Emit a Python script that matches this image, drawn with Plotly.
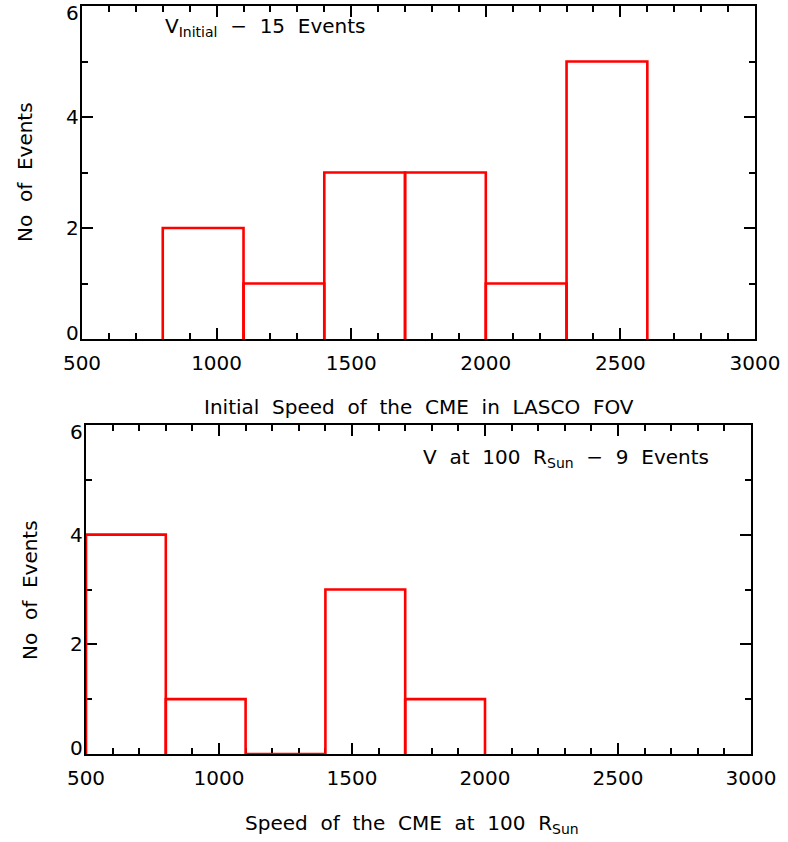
import plotly.graph_objects as go

# ---- data ----
edges_top = [800, 1100, 1400, 1700, 2000, 2300, 2600]
counts_top = [2, 1, 3, 3, 1, 5]
edges_bot = [500, 800, 1100, 1400, 1700, 2000]
counts_bot = [4, 1, 0, 3, 1]
x_tickvals = [500, 1000, 1500, 2000, 2500, 3000]
y_tickvals = [0, 2, 4, 6]

W, H = 788, 842
FONT = "DejaVu Sans"
FS = 20


def outline(edges, counts):
    xs, ys = [], []
    for i, c in enumerate(counts):
        xs += [edges[i], edges[i], edges[i + 1], edges[i + 1], None]
        ys += [0, c, c, 0, None]
    return xs, ys


fig = go.Figure()
xt, yt = outline(edges_top, counts_top)
xb, yb = outline(edges_bot, counts_bot)
fig.add_trace(go.Scatter(x=xt, y=yt, mode="lines", line=dict(color="#ff0000", width=2.6),
                         xaxis="x", yaxis="y", showlegend=False, hoverinfo="skip"))
fig.add_trace(go.Scatter(x=xb, y=yb, mode="lines", line=dict(color="#ff0000", width=2.6),
                         xaxis="x2", yaxis="y2", showlegend=False, hoverinfo="skip"))


def xax(domain, anchor):
    return dict(domain=domain, anchor=anchor, range=[500, 3000], tickvals=x_tickvals,
                ticks="inside", ticklen=11, tickwidth=1.5, tickcolor="black",
                minor=dict(dtick=100, tick0=500, ticks="inside", ticklen=6, tickwidth=1.5, tickcolor="black"),
                showline=True, linecolor="black", linewidth=1.8, mirror="allticks",
                showgrid=False, zeroline=False, layer="below traces", automargin=False,
                ticklabeloverflow="allow",
                tickfont=dict(family=FONT, size=FS, color="black"), ticklabelstandoff=5)


def yax(domain, anchor):
    return dict(domain=domain, anchor=anchor, range=[0, 6], tickvals=y_tickvals,
                ticks="inside", ticklen=11, tickwidth=1.5, tickcolor="black",
                minor=dict(dtick=1, tick0=0, ticks="inside", ticklen=6, tickwidth=1.5, tickcolor="black"),
                showline=True, linecolor="black", linewidth=1.8, mirror="allticks",
                showgrid=False, zeroline=False, layer="below traces", automargin=False,
                showticklabels=False)


fig.update_layout(
    width=W, height=H, margin=dict(l=0, r=0, t=0, b=0, autoexpand=False),
    paper_bgcolor="white", plot_bgcolor="white",
    xaxis=xax([82 / W, 755 / W], "y"),
    yaxis=yax([1 - 339 / H, 1 - 6 / H], "x"),
    xaxis2=xax([86 / W, 751 / W], "y2"),
    yaxis2=yax([1 - 754 / H, 1 - 425 / H], "x2"),
    font=dict(family=FONT, size=FS, color="black"),
)

ann = [
    dict(text="V<sub>Initial</sub>  \u2212  15  Events", x=163 / W, y=1 - 27 / H, xanchor="left", yanchor="middle"),
    dict(text="V  at  100  R<sub>Sun</sub>  \u2212  9  Events", x=421 / W, y=1 - 458 / H, xanchor="left", yanchor="middle"),
    dict(text="Initial  Speed  of  the  CME  in  LASCO  FOV", x=419 / W, y=1 - 407 / H, xanchor="center", yanchor="middle"),
    dict(text="Speed  of  the  CME  at  100  R<sub>Sun</sub>", x=412 / W, y=1 - 824 / H, xanchor="center", yanchor="middle"),
    dict(text="No  of  Events", x=25 / W, y=1 - 172 / H, xanchor="center", yanchor="middle", textangle=-90),
    dict(text="No  of  Events", x=30 / W, y=1 - 590 / H, xanchor="center", yanchor="middle", textangle=-90),
]
for a in ann:
    a.update(xref="paper", yref="paper")
# y tick labels (IDL places the end labels inside the axis range)
for yref, xref in (("y", "x"), ("y2", "x2")):
    for v in y_tickvals:
        shift = -7 if v == y_tickvals[-1] else (6 if v == y_tickvals[0] else 0)
        ann.append(dict(text=str(v), xref=xref + " domain", yref=yref, x=0, y=v,
                        xanchor="right", yanchor="middle", xshift=-1, yshift=shift))
for a in ann:
    a.update(showarrow=False, font=dict(family=FONT, size=FS, color="black"))
fig.update_layout(annotations=ann)

fig.write_html("out.html", config={"displayModeBar": False},
               post_script="document.body.style.margin='0';document.body.style.padding='0';")
